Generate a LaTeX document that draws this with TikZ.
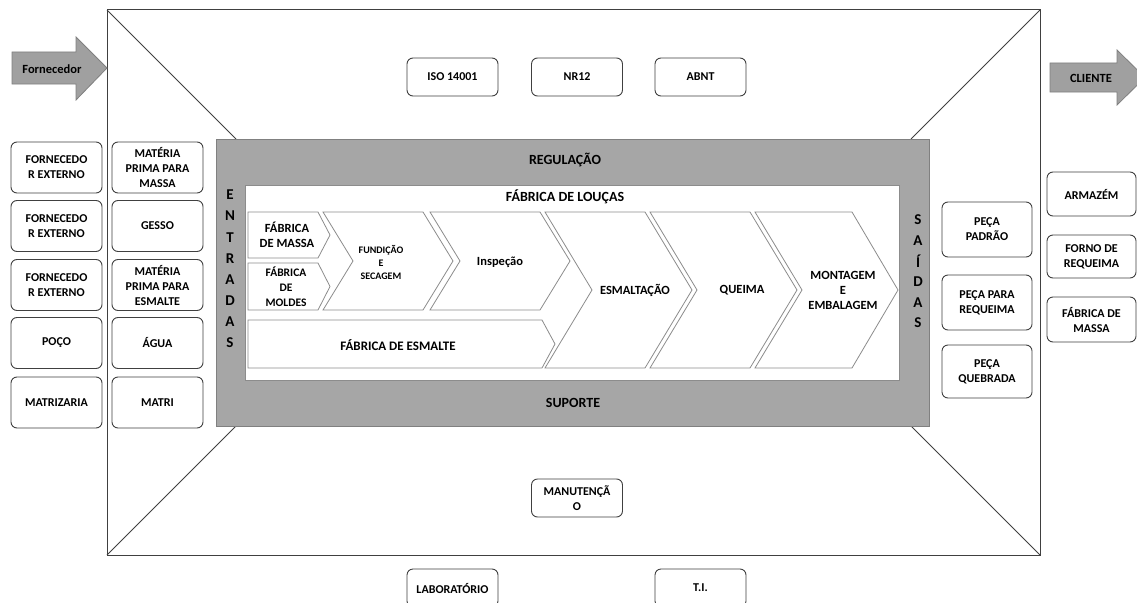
\documentclass[tikz,border=0pt]{standalone}
\usepackage{fontspec}
\setmainfont{Carlito}
\definecolor{cinza}{HTML}{A6A6A6}
\definecolor{borda}{HTML}{404040}
\definecolor{traco}{HTML}{8C8C8C}
\definecolor{seta}{HTML}{A0A0A0}
\tikzset{
  caixa/.style={draw=borda, line width=0.9pt, rounded corners=6pt, fill=white,
    minimum width=91pt, minimum height=51pt, inner sep=0pt, align=center,
    font=\bfseries\fontsize{12}{15}\selectfont},
  rotulo/.style={align=center, inner sep=0pt, font=\bfseries\fontsize{12.5}{15}\selectfont},
  titulo/.style={inner sep=0pt, font=\bfseries\fontsize{14}{16}\selectfont},
  letra/.style={inner sep=0pt, font=\bfseries\fontsize{15}{16}\selectfont},
  etapa/.style={draw=traco, fill=white, line width=0.8pt},
  flecha/.style={draw=gray, fill=seta, line width=0.8pt},
  moldura/.style={draw=borda, line width=1pt}
}
\begin{document}
\begin{tikzpicture}[x=1pt,y=-1pt]
\clip (0,0) rectangle (1137,602);
\fill[white] (0,0) rectangle (1137,602);

% moldura externa e diagonais
\coordinate (c1) at (107,10);
\coordinate (c2) at (1040,10);
\coordinate (c3) at (1040,555);
\coordinate (c4) at (107,555);
\draw[moldura] (c1) rectangle (c3);
\draw[moldura] (c1) -- (236,139);
\draw[moldura] (c2) -- (911,139);
\draw[moldura] (c3) -- (911,426);
\draw[moldura] (c4) -- (236,426);

% faixa cinza
\draw[fill=cinza, draw=gray] (216,139) rectangle (929,426);
\node[titulo] (regulacao) at (565,160) {REGULAÇÃO};
\node[titulo] (suporte) at (573,403) {SUPORTE};
\draw[draw=traco, fill=white, line width=0.8pt] (245,185) rectangle (899,380);
\node[titulo] (loucas) at (565,197) {FÁBRICA DE LOUÇAS};

\foreach \l [count=\i] in {E,N,T,R,A,D,A,S}
  \node[letra] (ent\i) at (230,{195+21.1*(\i-1)}) {\l};
\foreach \l [count=\i] in {S,A,Í,D,A,S}
  \node[letra] (sai\i) at (918,{220+20.6*(\i-1)}) {\l};

% etapas
\draw[etapa] (248,212) -- (318,212) -- (330,235) -- (318,258) -- (248,258) -- cycle;
\node[rotulo] (massa) at (287,235) {FÁBRICA\\DE MASSA};
\draw[etapa] (248,263) -- (318,263) -- (330,286.5) -- (318,310) -- (248,310) -- cycle;
\node[rotulo, font=\bfseries\fontsize{11.5}{15}\selectfont] (moldes) at (286,287) {FÁBRICA\\DE\\MOLDES};
\draw[etapa] (323,212) -- (423,212) -- (453,261) -- (423,310) -- (323,310) -- (353,261) -- cycle;
\node[rotulo, font=\bfseries\fontsize{10}{13}\selectfont] (fundicao) at (381,262) {FUNDIÇÃO\\E\\SECAGEM};
\draw[etapa] (430,212) -- (540,212) -- (570,261) -- (540,310) -- (430,310) -- (460,261) -- cycle;
\node[rotulo] (inspecao) at (500,262) {Inspeção};
\draw[etapa] (248,320) -- (542,320) -- (555,344) -- (542,368) -- (248,368) -- cycle;
\node[rotulo, font=\bfseries\fontsize{13}{15}\selectfont] (esmalte) at (398,345) {FÁBRICA DE ESMALTE};
\draw[etapa] (545,212) -- (645,212) -- (692,290) -- (645,368) -- (545,368) -- (592,290) -- cycle;
\node[rotulo] (esmaltacao) at (635,290) {ESMALTAÇÃO};
\draw[etapa] (650,212) -- (750,212) -- (797,290) -- (750,368) -- (650,368) -- (697,290) -- cycle;
\node[rotulo] (queima) at (742,290) {QUEIMA};
\draw[etapa] (755,212) -- (852,212) -- (898,290) -- (852,368) -- (755,368) -- (802,290) -- cycle;
\node[rotulo] (montagem) at (843,290) {MONTAGEM\\E\\EMBALAGEM};

% fornecedor e cliente
\draw[flecha] (12,52) -- (76,52) -- (76,37) -- (107,68) -- (76,100) -- (76,84) -- (12,84) -- cycle;
\node[rotulo] (fornecedor) at (52,69) {Fornecedor};
\draw[flecha] (1050,63) -- (1117,63) -- (1117,50) -- (1145,77.5) -- (1117,105) -- (1117,92) -- (1050,92) -- cycle;
\node[rotulo] (cliente) at (1091,78) {CLIENTE};

% entradas
\node[caixa] (f1) at (56.5,167.5) {FORNECEDO\\R EXTERNO};
\node[caixa] (f2) at (56.5,226) {FORNECEDO\\R EXTERNO};
\node[caixa] (f3) at (56.5,285) {FORNECEDO\\R EXTERNO};
\node[caixa] (poco) at (56.5,343) {POÇO};
\node[caixa] (matrizaria) at (56.5,402.5) {MATRIZARIA};
\node[caixa] (mpmassa) at (157.5,167.5) {MATÉRIA\\PRIMA PARA\\MASSA};
\node[caixa] (gesso) at (157.5,226) {GESSO};
\node[caixa] (mpesmalte) at (157.5,285) {MATÉRIA\\PRIMA PARA\\ESMALTE};
\node[caixa] (agua) at (157.5,343) {ÁGUA};
\node[caixa] (matri) at (157.5,402.5) {MATRI};

% saidas
\node[caixa, minimum width=90pt, minimum height=55pt] (padrao) at (987,229.5) {PEÇA\\PADRÃO};
\node[caixa, minimum width=90pt, minimum height=55pt] (requeima) at (987,302.5) {PEÇA PARA\\REQUEIMA};
\node[caixa, minimum width=90pt, minimum height=53pt] (quebrada) at (987,371.5) {PEÇA\\QUEBRADA};
\node[caixa, minimum width=89pt, minimum height=44pt] (armazem) at (1091.5,194) {ARMAZÉM};
\node[caixa, minimum width=89pt, minimum height=43pt] (forno) at (1091.5,256.5) {FORNO DE\\REQUEIMA};
\node[caixa, minimum width=89pt, minimum height=45pt] (fabmassa) at (1091.5,319.5) {FÁBRICA DE\\MASSA};

% regulacao e suporte
\node[caixa, minimum height=38pt] (iso) at (452.5,77) {ISO 14001};
\node[caixa, minimum height=38pt] (nr12) at (577,77) {NR12};
\node[caixa, minimum height=38pt] (abnt) at (700.5,77) {ABNT};
\node[caixa, minimum height=38pt] (manutencao) at (577,498) {MANUTENÇÃ\\O};
\node[caixa, minimum height=38pt] (laboratorio) at (452.5,588) {LABORATÓRIO};
\node[caixa, minimum height=38pt] (ti) at (700.5,588) {T.I.};
\end{tikzpicture}
\end{document}
